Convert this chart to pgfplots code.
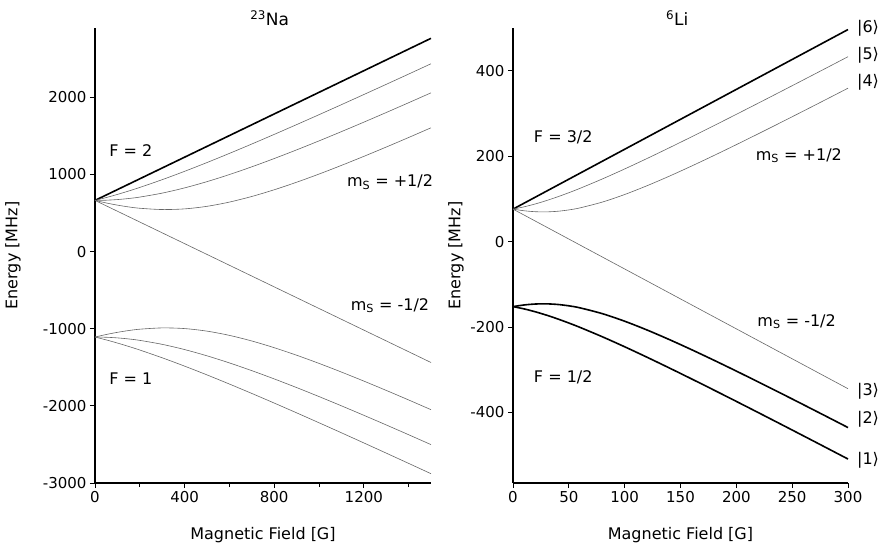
\documentclass[border=0pt]{standalone}
\usepackage{fontspec}
\setmainfont{DejaVu Sans}
\usepackage{pgfplots}
\pgfplotsset{compat=1.18}
\tikzset{lab/.style={font=\fontsize{16}{19}\selectfont}}
\begin{document}
\begin{tikzpicture}
\path (0pt,0pt) rectangle (888pt,550pt);
\pgfplotsset{
 common/.style={
  scale only axis, axis lines=left, axis line style={-, line width=1.6pt},
  tick align=outside, major tick length=5pt, minor tick length=4pt,
  tick style={line width=1pt, black},
  every tick label/.append style={font=\fontsize{15}{17}\selectfont},
  /pgf/number format/assume math mode=true,
  /pgf/number format/1000 sep={},
  label style={font=\fontsize{16}{19}\selectfont},
  clip=false, height=455pt,
  xlabel={Magnetic Field [G]}, ylabel={Energy [MHz]},
  xlabel style={at={(axis description cs:0.5,-0.114)}, anchor=center},
 },
 thinl/.style={line width=0.6pt, black!60, smooth},
 thickl/.style={line width=1.6pt, black, smooth},
}
% ---------------- 23Na ----------------
\begin{axis}[common, at={(95pt,67pt)}, anchor=south west, width=336pt,
  xmin=0, xmax=1500, ymin=-3000, ymax=2900,
  xtick={0,400,800,1200}, minor xtick={200,600,1000,1400},
  ytick={-3000,-2000,-1000,0,1000,2000},
  ylabel style={at={(axis description cs:-0.244,0.5)}, anchor=center}]
\addplot[thickl] coordinates {(0,664.4) (1500,2766.2)};
\addplot[thinl] coordinates {(0,664.4)(50,701.4)(100,742.1)(150,786.0)(200,832.8)(300,933.4)(400,1041.6)(500,1155.5)(600,1273.9)(700,1395.8)(800,1520.4)(900,1647.2)(1000,1775.8)(1100,1905.8)(1200,2037.1)(1300,2169.3)(1400,2302.4)(1500,2436.3)};
\addplot[thinl] coordinates {(0,664.4)(50,667.1)(100,675.4)(150,688.9)(200,707.6)(300,759.0)(400,826.8)(500,907.9)(600,999.8)(700,1100.1)(800,1207.2)(900,1319.6)(1000,1436.2)(1100,1556.2)(1200,1679.0)(1300,1804.0)(1400,1930.9)(1500,2059.3)};
\addplot[thinl] coordinates {(0,664.4)(50,631.5)(100,603.3)(150,580.2)(200,562.7)(300,546.0)(400,554.6)(500,587.8)(600,642.7)(700,715.5)(800,802.4)(900,900.1)(1000,1006.0)(1100,1118.3)(1200,1235.4)(1300,1356.2)(1400,1480.0)(1500,1606.1)};
\addplot[thinl] coordinates {(0,664.4) (1500,-1437.5)};
\addplot[thinl] coordinates {(0,-1107.3)(50,-1074.4)(100,-1046.2)(150,-1023.1)(200,-1005.6)(300,-988.9)(400,-997.5)(500,-1030.7)(600,-1085.6)(700,-1158.4)(800,-1245.3)(900,-1343.0)(1000,-1448.9)(1100,-1561.2)(1200,-1678.3)(1300,-1799.1)(1400,-1922.9)(1500,-2049.1)};
\addplot[thinl] coordinates {(0,-1107.3)(50,-1110.0)(100,-1118.3)(150,-1131.8)(200,-1150.5)(300,-1201.9)(400,-1269.7)(500,-1350.8)(600,-1442.7)(700,-1543.1)(800,-1650.1)(900,-1762.5)(1000,-1879.1)(1100,-1999.1)(1200,-2121.9)(1300,-2246.9)(1400,-2373.8)(1500,-2502.2)};
\addplot[thinl] coordinates {(0,-1107.3)(50,-1144.3)(100,-1185.0)(150,-1228.9)(200,-1275.7)(300,-1376.3)(400,-1484.5)(500,-1598.4)(600,-1716.8)(700,-1838.7)(800,-1963.3)(900,-2090.1)(1000,-2218.7)(1100,-2348.7)(1200,-2480.0)(1300,-2612.2)(1400,-2745.4)(1500,-2879.2)};
\node[font=\fontsize{17}{20}\selectfont] at (rel axis cs:0.52,1) [yshift=10pt] {\textsuperscript{23}Na};
\node[lab] at (axis cs:160,1310) {F = 2};
\node[lab] at (axis cs:160,-1650) {F = 1};
\node[lab] at (axis cs:1317,900) {m\textsubscript{S} = +1/2};
\node[lab] at (axis cs:1317,-700) {m\textsubscript{S} = -1/2};
\end{axis}
% ---------------- 6Li ----------------
\begin{axis}[common, at={(513pt,67pt)}, anchor=south west, width=335pt,
  xmin=0, xmax=300, ymin=-565, ymax=500,
  xtick={0,50,100,150,200,250,300},
  ytick={-400,-200,0,200,400},
  ylabel style={at={(axis description cs:-0.170,0.5)}, anchor=center}]
\addplot[thickl] coordinates {(0,76.07) (300,496.4)};
\addplot[thinl] coordinates {(0,76.07)(10,81.47)(20,88.21)(30,96.07)(40,104.88)(50,114.47)(60,124.70)(80,146.66)(100,170.08)(120,194.52)(140,219.70)(160,245.40)(180,271.51)(200,297.93)(225,331.29)(250,364.93)(275,398.79)(300,432.82)};
\addplot[thinl] coordinates {(0,76.07)(10,72.19)(20,70.01)(30,69.62)(40,71.04)(50,74.21)(60,78.98)(80,92.57)(100,110.27)(120,130.79)(140,153.23)(160,176.98)(180,201.65)(200,226.99)(225,259.35)(250,292.25)(275,325.55)(300,359.14)};
\addplot[thinl] coordinates {(0,76.07) (300,-344.3)};
\addplot[thickl] coordinates {(0,-152.13)(10,-148.25)(20,-146.07)(30,-145.68)(40,-147.10)(50,-150.27)(60,-155.04)(80,-168.63)(100,-186.33)(120,-206.85)(140,-229.29)(160,-253.04)(180,-277.71)(200,-303.05)(225,-335.41)(250,-368.31)(275,-401.61)(300,-435.20)};
\addplot[thickl] coordinates {(0,-152.13)(10,-157.53)(20,-164.27)(30,-172.13)(40,-180.94)(50,-190.53)(60,-200.76)(80,-222.72)(100,-246.14)(120,-270.58)(140,-295.76)(160,-321.46)(180,-347.57)(200,-373.99)(225,-407.35)(250,-440.99)(275,-474.85)(300,-508.88)};
\node[font=\fontsize{17}{20}\selectfont] at (rel axis cs:0.49,1) [yshift=10pt] {\textsuperscript{6}Li};
\node[lab] at (axis cs:45,243) {F = 3/2};
\node[lab] at (axis cs:45,-318) {F = 1/2};
\node[lab] at (axis cs:256,201) {m\textsubscript{S} = +1/2};
\node[lab] at (axis cs:254,-187) {m\textsubscript{S} = -1/2};
\node[lab, anchor=west] at (axis cs:305,500) {|6⟩};
\node[lab, anchor=west] at (axis cs:305,437) {|5⟩};
\node[lab, anchor=west] at (axis cs:305,374) {|4⟩};
\node[lab, anchor=west] at (axis cs:305,-351) {|3⟩};
\node[lab, anchor=west] at (axis cs:305,-416) {|2⟩};
\node[lab, anchor=west] at (axis cs:305,-512) {|1⟩};
\end{axis}
\end{tikzpicture}
\end{document}
